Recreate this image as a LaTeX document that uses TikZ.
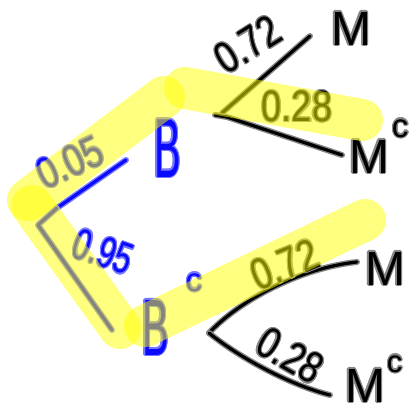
\documentclass[tikz,border=0pt]{standalone}
\usepackage{fontspec}
\setmainfont{Liberation Sans}
\usepackage[copies]{contour}
\contourlength{1.1pt}
\contournumber{16}
\definecolor{pen}{RGB}{0,0,0}
\definecolor{penhalo}{RGB}{135,135,135}
\definecolor{bluepen}{RGB}{10,10,255}
\definecolor{bluehalo}{RGB}{120,120,255}
\definecolor{hl}{RGB}{255,255,0}
\tikzset{
  ink/.style={draw=pen, line width=3.2pt, line cap=round, line join=round,
    preaction={draw=penhalo, line width=6pt, line cap=round, line join=round}},
  bink/.style={draw=bluepen, line width=3.2pt, line cap=round, line join=round,
    preaction={draw=bluehalo, line width=6pt, line cap=round, line join=round}},
  hlstroke/.style={draw=hl, line width=42pt, line cap=round, draw opacity=0.5},
  num/.style={inner sep=0pt, outer sep=0pt, text=pen, font=\fontsize{44}{44}\selectfont},
  bnum/.style={inner sep=0pt, outer sep=0pt, text=bluepen, font=\fontsize{44}{44}\selectfont},
  letter/.style={inner sep=0pt, outer sep=0pt, anchor=base west, text=pen, font=\fontsize{48}{48}\selectfont},
  bletter/.style={inner sep=0pt, outer sep=0pt, anchor=base west, text=bluepen, font=\fontsize{40}{40}\selectfont}
}
\begin{document}
\begin{tikzpicture}[x=1pt, y=-1pt]
\fill[white] (0,0) rectangle (419,413);
\useasboundingbox (0,0) rectangle (419,413);

% event nodes
\node[bletter] (B) at (154,177) {\contour{bluehalo}{\scalebox{1}[2.1]{B}}};
\node[bletter] (Bc) at (142,355) {\contour{bluehalo}{\scalebox{1}[2.0]{B}}\hspace{17pt}\raisebox{64pt}{\fontsize{33}{33}\selectfont\contour{bluehalo}{c}}};
\node[letter] (M1) at (331,45) {\contour{penhalo}{M}};
\node[letter] (Mc1) at (349,173) {\contour{penhalo}{M}\hspace{3pt}\raisebox{36pt}{\fontsize{33}{33}\selectfont\contour{penhalo}{c}}};
\node[letter] (M2) at (365,285) {\contour{penhalo}{M}};
\node[letter] (Mc2) at (345,402) {\contour{penhalo}{M}\hspace{2pt}\raisebox{30pt}{\fontsize{31}{31}\selectfont\contour{penhalo}{c}}};

% branch points
\coordinate (r1) at (57,208);
\coordinate (r2) at (38,225);
\coordinate (bE) at (126,160);
\coordinate (bcE) at (112,330);
\coordinate (t0) at (215,115);
\coordinate (t1) at (227,117);
\coordinate (t2) at (222,113);
\coordinate (tM) at (310,36);
\coordinate (tMc) at (342,155);
\coordinate (u0) at (209,333);
\coordinate (uM) at (357,262);
\coordinate (uMc) at (330,395);

% branches
\draw[bink] (r1) -- (bE);
\draw[bink] (r1) -- (r2) -- (bcE);
\draw[ink] (t2) -- (tM);
\draw[ink] (t0) -- (t1) -- (tMc);
\draw[ink] (u0) .. controls (240,300) and (300,268) .. (uM);
\draw[ink] (u0) .. controls (240,358) and (290,385) .. (uMc);

% probabilities
\node[bnum, rotate=25] (p05) at (70,163) {\contour{bluehalo}{\scalebox{0.8}[1]{0.05}}};
\node[bnum, rotate=-19] (p95) at (103,252) {\contour{bluehalo}{\scalebox{0.7}[1]{0.95}}};
\node[num, rotate=32] (p72a) at (248,45) {\contour{penhalo}{\scalebox{0.8}[1]{0.72}}};
\node[num] (p28a) at (297,107) {\contour{penhalo}{\scalebox{0.82}[1]{0.28}}};
\node[num, rotate=22] (p72b) at (285,265) {\contour{penhalo}{\scalebox{0.8}[1]{0.72}}};
\node[num, rotate=-30] (p28b) at (290,356) {\contour{penhalo}{\scalebox{0.8}[1]{0.28}}};

% highlighter strokes
\draw[hlstroke] (28,200) -- (164,97);
\draw[hlstroke] (185,88) -- (362,120);
\draw[hlstroke] (32,206) -- (120,328);
\draw[hlstroke] (145,326) -- (365,220);
\end{tikzpicture}
\end{document}
